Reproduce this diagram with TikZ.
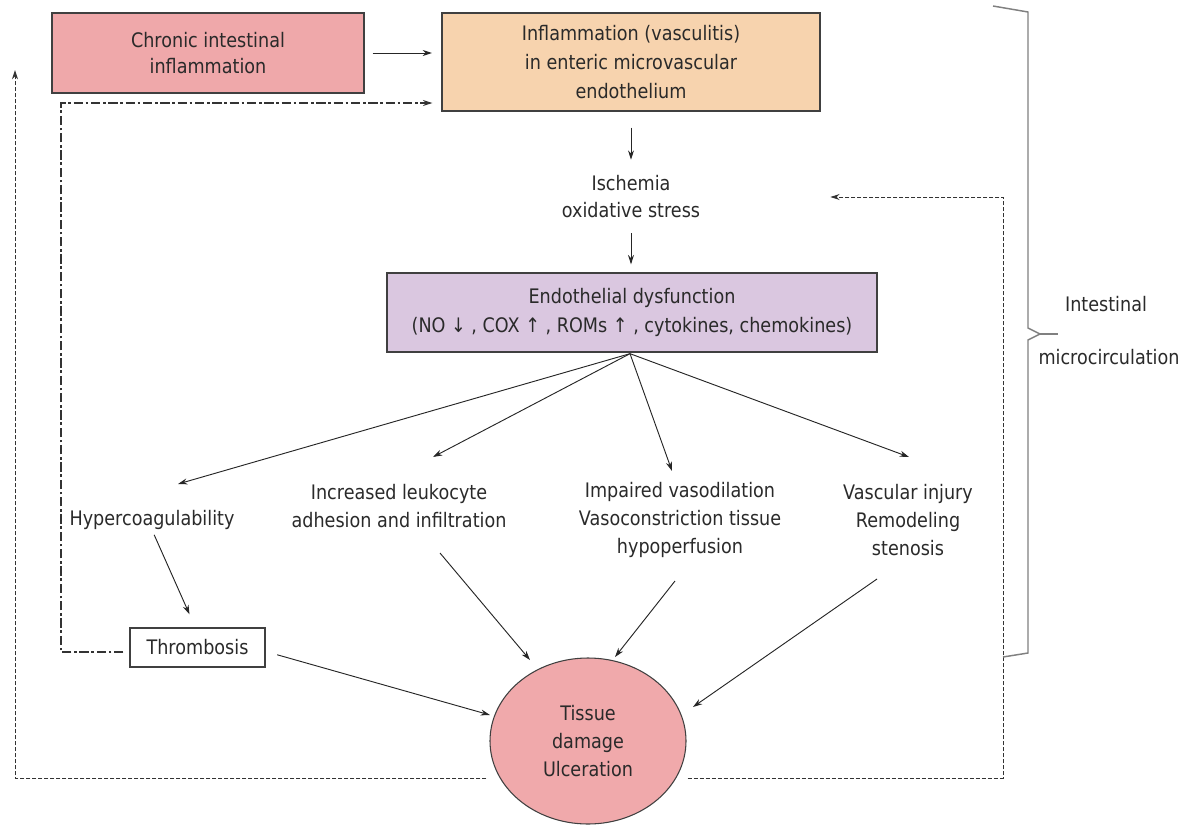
\documentclass[tikz,border=0pt]{standalone}
\usepackage{fontspec}
\setmainfont{DejaVu Sans}[FakeStretch=0.88]
\usetikzlibrary{arrows.meta,shapes.geometric,calc}
\definecolor{pinkbox}{HTML}{EFA8AA}
\definecolor{peach}{HTML}{F7D3AE}
\definecolor{lav}{HTML}{DAC7E0}
\definecolor{circ}{HTML}{F0A9AB}
\definecolor{txt}{HTML}{2A2A2A}
\begin{document}
\begin{tikzpicture}[x=0.75pt,y=-0.75pt,
  font=\fontsize{15}{21}\selectfont, text=txt,
  box/.style={draw=black!75, line width=1pt, inner sep=0pt, align=center},
  arr/.style={-{Stealth[length=7pt,width=4.5pt]}, line width=0.7pt, draw=black!85},
  lbl/.style={align=center, inner sep=0pt},
  loopdash/.style={line width=0.8pt, draw=black!80, dash pattern=on 7pt off 2pt on 2pt off 2pt},
  outdash/.style={line width=0.7pt, draw=black!80, dash pattern=on 3pt off 1.5pt},
  bracestyle/.style={draw=black!50, line width=1.1pt}
]
\path[use as bounding box] (0,0) rectangle (1189,825);

% nodes
\node[box, fill=pinkbox, minimum width=234pt, minimum height=60pt,
      font=\fontsize{15}{19.5}\selectfont] (chronic) at (208,53)
      {Chronic intestinal\\inflammation};
\node[box, fill=peach, minimum width=283.5pt, minimum height=73.5pt,
      font=\fontsize{15}{22}\selectfont] (inflam) at (631,62)
      {Inflammation (vasculitis)\\in enteric microvascular\\endothelium};
\node[lbl, font=\fontsize{15}{20}\selectfont] (isch) at (631,196.5)
      {Ischemia\\oxidative stress};
\node[box, fill=lav, minimum width=367.5pt, minimum height=59.25pt,
      font=\fontsize{15}{22}\selectfont] (endo) at (632,312.5)
      {Endothelial dysfunction\\(NO ↓ , COX ↑ , ROMs ↑ , cytokines, chemokines)};
\node[lbl] (hyper) at (152,520) {Hypercoagulability};
\node[lbl] (leuko) at (399,506) {Increased leukocyte\\adhesion and infiltration};
\node[lbl] (vaso) at (680,520) {Impaired vasodilation\\Vasoconstriction tissue\\hypoperfusion};
\node[lbl] (vasc) at (908,520) {Vascular injury\\Remodeling\\stenosis};
\node[box, fill=white, minimum width=101.25pt, minimum height=29.25pt] (thromb) at (197.5,647.5) {Thrombosis};
\node[ellipse, draw=black!75, line width=0.8pt, fill=circ, minimum width=147pt,
      minimum height=124.5pt, inner sep=0pt, align=center] (tissue) at (588,741)
      {Tissue\\damage\\Ulceration};
\node[lbl] (int1) at (1106,304) {Intestinal};
\node[lbl] (int2) at (1109,357) {microcirculation};

% named free points
\coordinate (tH) at (178,484);
\coordinate (tL) at (433,457);
\coordinate (tV) at (672,471);
\coordinate (tR) at (909,457);
\coordinate (sL) at (440,553);
\coordinate (eL) at (530,660);
\coordinate (sV) at (675,581);
\coordinate (eV) at (615,657);
\coordinate (sR) at (877,579);
\coordinate (eR) at (693,707);
\coordinate (eT) at (490,715);
\coordinate (lp1) at (61,652);
\coordinate (lp2) at (61,103);
\coordinate (ol1) at (15,778);
\coordinate (ol2) at (15,70);
\coordinate (or1) at (1003,778);
\coordinate (or2) at (1003,197);

% solid arrows
\draw[arr, shorten <=6pt, shorten >=7pt] (chronic.east) -- (chronic.east -| inflam.west);
\draw[arr] ($(inflam.south)+(0,16)$) -- ($(inflam.south)+(0,48)$);
\draw[arr] ($(endo.north)+(-1,-39)$) -- ($(endo.north)+(-1,-8)$);
\draw[arr] ($(endo.south)+(-2,1)$) -- (tH);
\draw[arr] ($(endo.south)+(-2,1)$) -- (tL);
\draw[arr] ($(endo.south)+(-2,1)$) -- (tV);
\draw[arr] ($(endo.south)+(-2,1)$) -- (tR);
\draw[arr, shorten <=4pt] (hyper.south) -- ($(thromb.north)+(-8,-13)$);
\draw[arr] (sL) -- (eL);
\draw[arr] (sV) -- (eV);
\draw[arr] (sR) -- (eR);
\draw[arr, shorten <=9pt] ($(thromb.east)+(0,4)$) -- (eT);

% dashed feedback loops
\draw[loopdash, -{Stealth[length=7pt,width=4.5pt]}]
  ($(thromb.west)+(-6,4.5)$) -- (lp1) -- (lp2) -- ($(lp2 -| inflam.west)+(-9,0)$);
\draw[outdash, -{Stealth[length=7pt,width=4.5pt]}]
  ($(tissue.west |- ol1)+(-3,0)$) -- (ol1) -- (ol2);
\draw[outdash, -{Stealth[length=7pt,width=4.5pt]}]
  ($(tissue.east |- or1)+(1,0)$) -- (or1) -- (or2) -- ($(or2 -| isch.east)+(130,0)$);

% brace
\draw[bracestyle] (993,6) -- (1028,12) -- (1028,328) -- (1040,334) -- (1028,340) -- (1028,653) -- (1003,657);
\draw[bracestyle] (1040,334) -- (1058,334);
\end{tikzpicture}
\end{document}
